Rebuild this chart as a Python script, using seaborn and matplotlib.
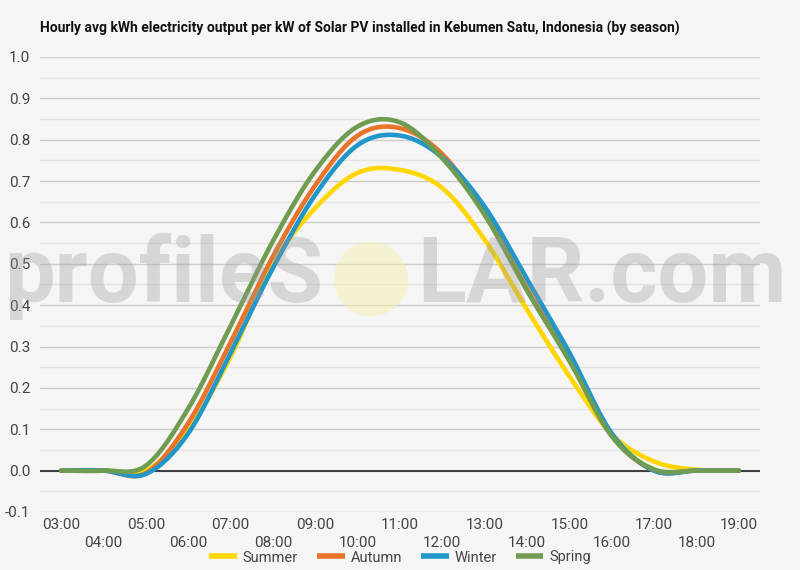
import numpy as np
import pandas as pd
import matplotlib
matplotlib.use("Agg")
import matplotlib.pyplot as plt
from matplotlib.patches import Ellipse
import seaborn as sns

# hourly values
hours = ["03:00", "04:00", "05:00", "06:00", "07:00", "08:00", "09:00", "10:00", "11:00",
         "12:00", "13:00", "14:00", "15:00", "16:00", "17:00", "18:00", "19:00"]
summer = [0, 0, 0.0, 0.10, 0.275, 0.50, 0.635, 0.72, 0.727, 0.683, 0.558, 0.389, 0.228, 0.088, 0.022, 0.002, 0]
autumn = [0, 0, -0.006, 0.115, 0.31, 0.518, 0.69, 0.81, 0.828, 0.765, 0.625, 0.44, 0.27, 0.085, 0.0, 0.0, 0]
winter = [0, 0, -0.008, 0.09, 0.285, 0.49, 0.667, 0.787, 0.81, 0.757, 0.638, 0.463, 0.285, 0.09, 0.0, 0.0, 0]
spring = [0, 0, 0.012, 0.15, 0.35, 0.555, 0.725, 0.832, 0.842, 0.755, 0.618, 0.435, 0.265, 0.083, 0.003, 0.0, 0]

seasons = ["Summer", "Autumn", "Winter", "Spring"]
colors = ["#FFD600", "#E8742A", "#2196C9", "#6F9C50"]
title = "Hourly avg kWh electricity output per kW of Solar PV installed in Kebumen Satu, Indonesia (by season)"


def smooth(ys, steps=24):
    # smoothed line through the hourly points (Catmull-Rom / bezier, like the original chart)
    y = np.asarray(ys, dtype=float)
    x = np.arange(len(y), dtype=float)
    yp = np.concatenate([[y[0]], y, [y[-1]]])
    xs, out = [], []
    t = np.linspace(0, 1, steps, endpoint=False)
    for i in range(len(y) - 1):
        p0, p1, p2, p3 = yp[i], yp[i + 1], yp[i + 2], yp[i + 3]
        c1 = p1 + (p2 - p0) / 6
        c2 = p2 - (p3 - p1) / 6
        b = (1 - t) ** 3 * p1 + 3 * (1 - t) ** 2 * t * c1 + 3 * (1 - t) * t ** 2 * c2 + t ** 3 * p2
        xs.append(x[i] + t)
        out.append(b)
    xs.append([x[-1]])
    out.append([y[-1]])
    return np.concatenate(xs), np.concatenate(out)


frames = []
for name, vals in zip(seasons, [summer, autumn, winter, spring]):
    sx, sy = smooth(vals)
    frames.append(pd.DataFrame({"x": sx, "kwh": sy, "season": name}))
df = pd.concat(frames, ignore_index=True)

sns.set_theme(style="white")
plt.rcParams["font.family"] = ["Roboto", "DejaVu Sans"]

bg = "#f5f5f5"
fig = plt.figure(figsize=(8, 5.7), dpi=100, facecolor=bg)
ax = fig.add_axes([0.05, 0.1018, 0.90, 0.7982])
ax.set_facecolor(bg)

sns.lineplot(data=df, x="x", y="kwh", hue="season", hue_order=seasons,
             palette=colors, linewidth=3.3, sort=False, estimator=None, ax=ax)

ax.set_xlim(-0.5, len(hours) - 0.5)
ax.set_ylim(-0.1, 1.0)

# gridlines
ax.set_yticks(np.round(np.arange(-0.1, 1.01, 0.1), 1))
ax.set_yticks(np.round(np.arange(-0.05, 1.0, 0.1), 2), minor=True)
ax.grid(axis="y", which="major", color="#cccccc", linewidth=1)
ax.grid(axis="y", which="minor", color="#e4e4e4", linewidth=1)
ax.set_axisbelow(True)
ax.axhline(0, color="#222222", linewidth=1.2, zorder=1)
for s in ax.spines.values():
    s.set_visible(False)

ax.set_yticklabels([f"{v:.1f}" for v in np.arange(-0.1, 1.01, 0.1)])
ax.tick_params(axis="y", which="both", length=0, pad=7, labelsize=11, labelcolor="#444444")

# staggered hour labels
pos = np.arange(len(hours))
ax.set_xticks(pos[::2], hours[::2])
ax.set_xticks(pos[1::2], hours[1::2], minor=True)
ax.tick_params(axis="x", which="major", length=0, pad=4, labelsize=11, labelcolor="#444444")
ax.tick_params(axis="x", which="minor", length=0, pad=17, labelsize=11, labelcolor="#444444")
ax.set_xlabel("")
ax.set_ylabel("")

handles, labels = ax.get_legend_handles_labels()
ax.legend(handles, labels, loc="center", bbox_to_anchor=(0.5, 1 - 557.5 / 570),
          bbox_transform=fig.transFigure, ncol=4, frameon=False, fontsize=10.5,
          handlelength=1.9, handletextpad=0.4, columnspacing=1.3, labelcolor="#444444")
for h in ax.get_legend().get_lines():
    h.set_linewidth(4)
    h.set_solid_capstyle("butt")

fig.text(0.05, 1 - 28 / 570, title, fontsize=10, fontweight="bold", va="center", ha="left", color="#111111")

# watermark
fig.text(4 / 800, 1 - 302 / 570, "profileS", fontsize=65, fontweight="bold", color="#999999", alpha=0.33,
         ha="left", va="baseline", zorder=5)
fig.text(417 / 800, 1 - 302 / 570, "LAR.com", fontsize=65, fontweight="bold", color="#999999", alpha=0.33,
         ha="left", va="baseline", zorder=5)
fig.add_artist(Ellipse((371 / 800, 1 - 279 / 570), 74 / 800, 75 / 570, transform=fig.transFigure,
                       facecolor="#f6f0a8", edgecolor="none", alpha=0.45, zorder=5))

fig.savefig("out.png", dpi=100, facecolor=bg)
